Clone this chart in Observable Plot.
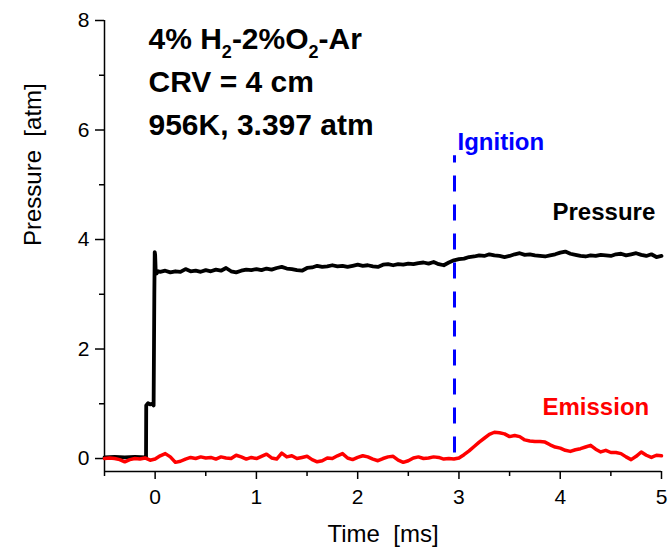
<!DOCTYPE html>
<html><head><meta charset="utf-8">
<script src="https://cdn.jsdelivr.net/npm/d3@7"></script>
<script src="https://cdn.jsdelivr.net/npm/@observablehq/plot@0.6"></script>
<style>
body{margin:0;background:#fff}
svg text{white-space:pre}
</style>
</head><body><div id="chart"></div>
<script>
const xDomain = [-0.5, 5];
const yDomain = [-0.237, 8];
const xMajorTicks = [0, 1, 2, 3, 4, 5];
const xMinorTicks = [-0.5, 0.5, 1.5, 2.5, 3.5, 4.5];
const yMajorTicks = [0, 2, 4, 6, 8];
const yMinorTicks = [1, 3, 5, 7];

const pressureTime = [-0.5,-0.4,-0.3,-0.2,-0.09,-0.088,-0.07,-0.05,-0.03,-0.015,-0.008,-0.004,0.0,0.005,0.015,0.03,
0.05,0.10,0.15,0.20,0.25,0.30,0.35,0.40,0.45,0.50,0.55,0.60,0.65,0.70,0.75,0.80,0.85,0.90,0.95,1.00,
1.05,1.10,1.15,1.20,1.25,1.30,1.35,1.40,1.45,1.50,1.55,1.60,1.65,1.70,1.75,1.80,1.85,1.90,1.95,2.00,
2.05,2.10,2.15,2.20,2.25,2.30,2.35,2.40,2.45,2.50,2.55,2.60,2.65,2.70,2.75,2.80,2.85,2.90,2.95,3.00,
3.05,3.10,3.15,3.20,3.25,3.30,3.35,3.40,3.45,3.50,3.55,3.60,3.65,3.70,3.75,3.80,3.85,3.90,3.95,4.00,
4.05,4.10,4.15,4.20,4.25,4.30,4.35,4.40,4.45,4.50,4.55,4.60,4.65,4.70,4.75,4.80,4.85,4.90,4.95,5.00];
const pressureValue = [0.02,0.03,0.02,0.03,0.02,0.97,1.01,0.99,1.00,0.97,3.00,3.77,3.72,3.45,3.38,3.42,
3.41,3.43,3.40,3.42,3.41,3.46,3.42,3.43,3.41,3.44,3.42,3.45,3.43,3.48,3.42,3.40,3.43,3.45,3.44,3.46,
3.44,3.47,3.45,3.48,3.50,3.47,3.46,3.44,3.43,3.48,3.49,3.52,3.50,3.51,3.53,3.51,3.52,3.50,3.52,3.54,
3.52,3.53,3.51,3.50,3.54,3.55,3.53,3.55,3.54,3.56,3.55,3.57,3.58,3.56,3.59,3.55,3.53,3.58,3.62,3.64,
3.65,3.68,3.69,3.71,3.70,3.73,3.71,3.70,3.68,3.70,3.73,3.75,3.72,3.73,3.71,3.70,3.69,3.71,3.73,3.76,
3.78,3.74,3.72,3.70,3.69,3.71,3.70,3.72,3.71,3.70,3.73,3.74,3.71,3.73,3.75,3.72,3.70,3.73,3.68,3.70];

const emissionTime = [-0.50,-0.45,-0.40,-0.35,-0.30,-0.25,-0.20,-0.15,-0.10,-0.05,0.00,0.05,0.10,0.15,0.20,0.25,0.30,0.35,0.40,0.45,
0.50,0.55,0.60,0.65,0.70,0.75,0.80,0.85,0.90,0.95,1.00,1.05,1.10,1.15,1.20,1.25,1.30,1.35,1.40,1.45,
1.50,1.55,1.60,1.65,1.70,1.75,1.80,1.85,1.90,1.95,2.00,2.05,2.10,2.15,2.20,2.25,2.30,2.35,2.40,2.45,
2.50,2.55,2.60,2.65,2.70,2.75,2.80,2.85,2.90,2.95,3.00,3.05,3.10,3.15,3.20,3.25,3.30,3.35,3.40,3.45,
3.50,3.55,3.60,3.65,3.70,3.75,3.80,3.85,3.90,3.95,4.00,4.05,4.10,4.15,4.20,4.25,4.30,4.35,4.40,4.45,
4.50,4.55,4.60,4.65,4.70,4.75,4.80,4.85,4.90,4.95,5.00];
const emissionValue = [0.00,0.01,0.00,-0.02,-0.06,-0.02,0.00,-0.01,0.01,-0.03,-0.01,0.05,0.09,0.03,-0.07,-0.05,-0.01,0.02,0.00,0.03,
0.01,0.02,-0.01,0.03,0.01,0.00,0.06,0.03,-0.01,0.02,0.00,0.04,0.08,0.01,-0.01,0.10,0.03,0.05,0.00,0.02,
0.04,-0.02,-0.06,-0.04,0.01,0.00,0.05,0.09,0.01,-0.02,0.02,0.05,0.03,-0.01,-0.04,0.00,0.03,0.04,-0.03,-0.07,
-0.04,0.01,0.03,0.00,0.01,0.03,0.02,-0.01,0.00,-0.01,0.01,0.07,0.14,0.22,0.30,0.37,0.44,0.48,0.47,0.45,
0.40,0.42,0.40,0.34,0.32,0.31,0.31,0.30,0.25,0.21,0.19,0.15,0.13,0.16,0.18,0.21,0.24,0.17,0.12,0.15,
0.11,0.11,0.09,0.03,-0.02,0.04,0.12,0.06,0.02,0.06,0.05];

const ignitionTime = [2.956];
const ignitionRange = [0.10, 5.53];
const annotationLines = ["4% H₂-2%O₂-Ar", "CRV = 4 cm", "956K, 3.397 atm"];
const ignitionLabel = "Ignition";
const pressureLabel = "Pressure";
const emissionLabel = "Emission";
const xLabel = "Time  [ms]";
const yLabel = "Pressure  [atm]";

const FONT = "'Liberation Sans', Arial, Helvetica, sans-serif";

const chart = Plot.plot({
  width: 669,
  height: 549,
  marginLeft: 104,
  marginRight: 8,
  marginTop: 20,
  marginBottom: 78,
  style: {fontFamily: FONT, background: "#fff", color: "#000"},
  x: {domain: xDomain},
  y: {domain: yDomain},
  marks: [
    Plot.ruleX([xDomain[0]], {stroke: "#000", strokeWidth: 1.5}),
    Plot.ruleY([yDomain[0]], {stroke: "#000", strokeWidth: 1.5}),
    Plot.axisX(xMajorTicks, {tickSize: 8, tickPadding: 10, fontSize: 21, tickFormat: d => String(d), label: null, strokeWidth: 1.5}),
    Plot.axisX(xMinorTicks, {tickSize: 5, tickFormat: () => "", label: null, strokeWidth: 1.5}),
    Plot.axisY(yMajorTicks, {tickSize: 9, tickPadding: 6, fontSize: 21, tickFormat: d => String(d), label: null, strokeWidth: 1.5}),
    Plot.axisY(yMinorTicks, {tickSize: 5, tickFormat: () => "", label: null, strokeWidth: 1.5}),
    Plot.line(pressureValue, {x: pressureTime, y: pressureValue, stroke: "#000", strokeWidth: 3.8, strokeLinejoin: "round"}),
    Plot.line(emissionValue, {x: emissionTime, y: emissionValue, stroke: "#ff0000", strokeWidth: 3.5, strokeLinejoin: "round"}),
    Plot.ruleX(ignitionTime, {y1: ignitionRange[0], y2: ignitionRange[1], stroke: "#0000ff", strokeWidth: 3, strokeDasharray: "16,13"}),
    ...annotationLines.map((t, i) => Plot.text([t], {frameAnchor: "top-left", dx: 44, dy: 7 + i * 43, lineAnchor: "top", textAnchor: "start", fontSize: 30, fontWeight: "bold", fill: "#000"})),
    Plot.text([ignitionLabel], {frameAnchor: "top-left", dx: 353, dy: 112, lineAnchor: "top", textAnchor: "start", fontSize: 24, fontWeight: "bold", fill: "#0000ff"}),
    Plot.text([pressureLabel], {frameAnchor: "top-left", dx: 448, dy: 182, lineAnchor: "top", textAnchor: "start", fontSize: 24, fontWeight: "bold", fill: "#000"}),
    Plot.text([emissionLabel], {frameAnchor: "top-left", dx: 438, dy: 377, lineAnchor: "top", textAnchor: "start", fontSize: 24, fontWeight: "bold", fill: "#ff0000"}),
    Plot.text([xLabel], {frameAnchor: "bottom", dy: 70, fontSize: 24, fill: "#000"}),
    Plot.text([yLabel], {frameAnchor: "left", dx: -71, rotate: -90, fontSize: 24, fill: "#000"})
  ]
});

// render the "₂" characters as true subscripts
const NS = "http://www.w3.org/2000/svg";
chart.querySelectorAll("text").forEach(t => {
  if (t.children.length === 0 && t.textContent.includes("₂")) {
    const parts = t.textContent.split("₂");
    t.textContent = "";
    parts.forEach((p, i) => {
      const s = document.createElementNS(NS, "tspan");
      s.textContent = p;
      if (i > 0) s.setAttribute("dy", "-9");
      t.appendChild(s);
      if (i < parts.length - 1) {
        const sub = document.createElementNS(NS, "tspan");
        sub.textContent = "2";
        sub.setAttribute("dy", "9");
        sub.setAttribute("font-size", "18");
        t.appendChild(sub);
      }
    });
  }
});

document.getElementById("chart").appendChild(chart);
</script>
</body></html>
